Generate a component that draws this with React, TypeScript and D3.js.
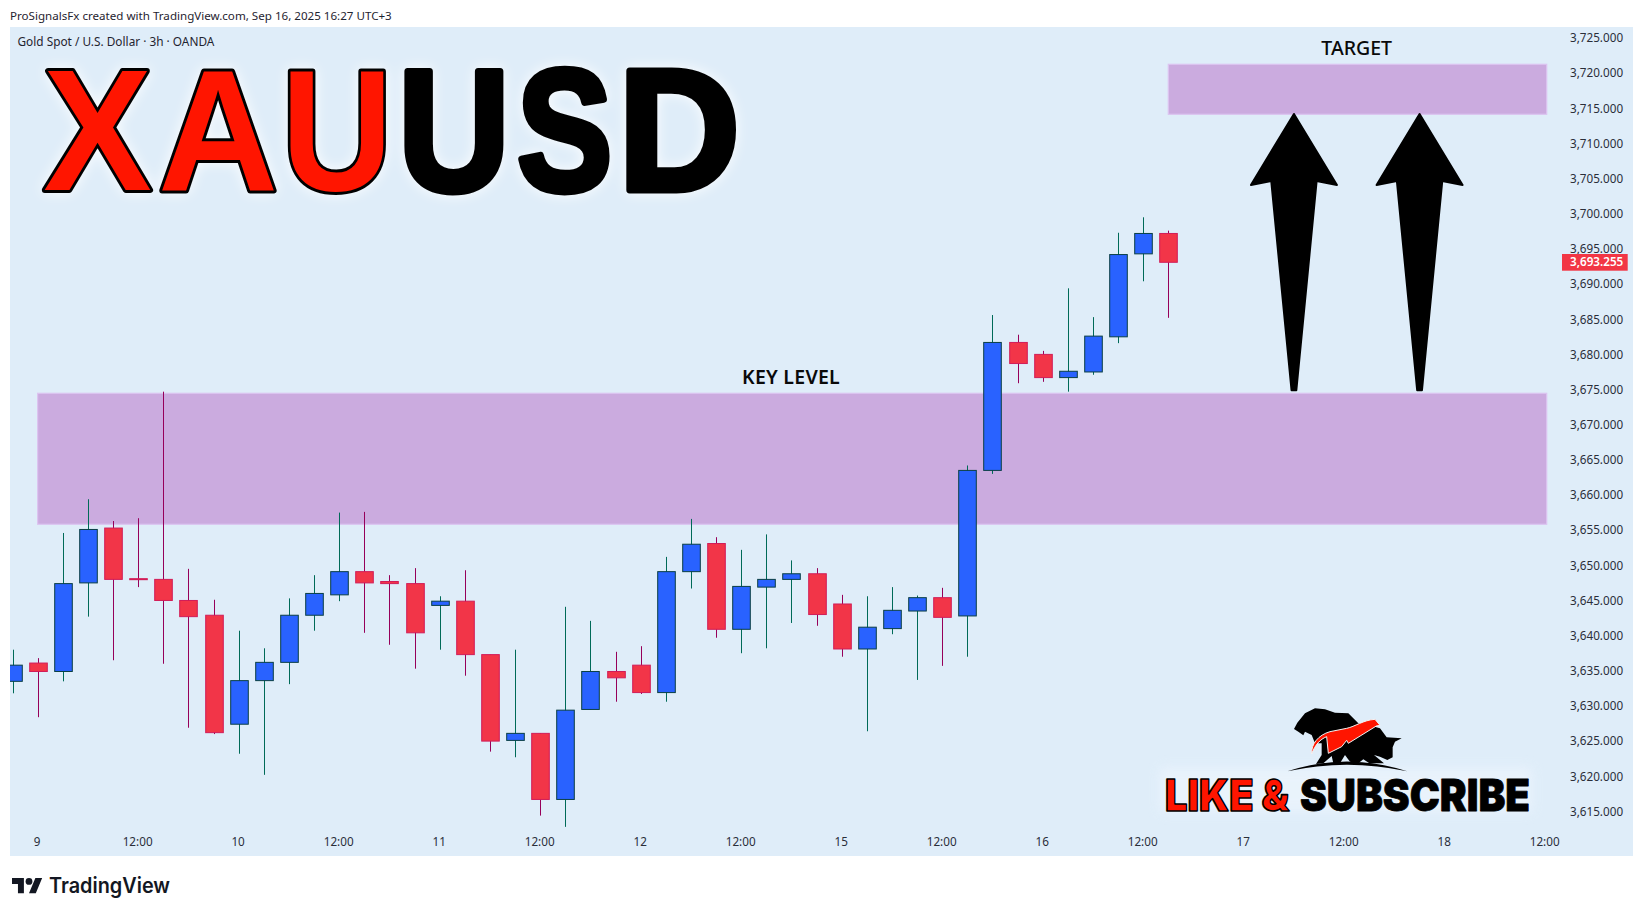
import React from "react";
import * as d3 from "d3";

// O, H, L, C per candle (3h bars, index 0 = last bar of Sep 8)
const opens = [3633.4,3636.0,3634.8,3647.4,3655.2,3648.0,3647.9,3644.9,3642.8,3627.3,3633.5,3636.1,3642.8,3645.7,3649.0,3647.6,3647.3,3644.2,3644.8,3637.2,3625.0,3626.0,3616.6,3629.4,3634.8,3635.7,3631.8,3649.0,3653.0,3640.8,3646.8,3647.9,3648.7,3644.4,3638.0,3640.9,3643.4,3645.3,3642.7,3663.4,3681.6,3679.9,3676.6,3677.4,3682.4,3694.2,3697.1];
const highs = [3637.9,3636.7,3654.5,3659.3,3656.2,3656.6,3674.6,3649.4,3645.0,3640.6,3638.1,3645.2,3648.5,3657.4,3657.5,3648.5,3649.5,3645.5,3649.2,3637.2,3637.9,3626.0,3644.0,3642.0,3637.6,3638.4,3651.1,3656.5,3653.9,3652.1,3654.3,3650.6,3649.5,3645.7,3645.5,3646.8,3645.6,3646.7,3664.1,3685.5,3682.7,3680.4,3689.3,3685.2,3697.2,3699.4,3697.5];
const lows = [3631.7,3628.3,3633.4,3642.6,3636.4,3646.8,3635.9,3626.8,3625.9,3623.1,3620.1,3633.0,3640.6,3644.8,3640.3,3638.6,3635.2,3637.9,3634.2,3623.4,3622.6,3614.3,3612.7,3629.4,3630.5,3631.6,3630.5,3646.6,3639.6,3637.4,3638.1,3641.7,3641.3,3636.9,3626.3,3640.1,3633.6,3635.6,3636.9,3662.9,3675.8,3676.0,3674.6,3677.0,3681.5,3690.3,3685.1];
const closes = [3635.7,3634.8,3647.3,3655.0,3647.9,3647.9,3644.9,3642.6,3626.1,3633.5,3636.1,3642.8,3645.9,3649.0,3647.4,3647.3,3640.3,3644.8,3637.2,3624.9,3626.0,3616.6,3629.3,3634.8,3633.9,3631.8,3649.0,3652.9,3640.8,3646.9,3647.9,3648.7,3642.9,3638.0,3641.1,3643.5,3645.3,3642.5,3663.4,3681.6,3678.6,3676.6,3677.5,3682.5,3694.1,3697.1,3693.0];

const priceTicks = [3725,3720,3715,3710,3705,3700,3695,3690,3685,3680,3675,3670,3665,3660,3655,3650,3645,3640,3635,3630,3625,3620,3615];
const timeLabels = ["9","12:00","10","12:00","11","12:00","12","12:00","15","12:00","16","12:00","17","12:00","18","12:00"];
const titleLetters = ["X","A","U","U","S","D"];
const titleCentres = [97.5,218,337,454,564.5,679];
const titleWidths = [0.945,0.967,0.897,0.897,0.83,0.976];
const zoneKey = [3674.37,3655.74];
const zoneTarget = [3721.16,3714.05];
const arrowIdx = [51,56];
const arrowTip = 3714.1;
const arrowBase = 3674.8;
const lastPrice = 3693.255;

const W = 1643, H = 916;
const panel = { x: 10, y: 27, r: 1633, b: 856 };
const x = d3.scaleLinear().domain([0,61]).range([12.5,1545.2]);
const y = d3.scaleLinear().domain([3725,3615]).range([37.3,810.7]);
const zoneX0 = x(1), zoneX1 = 1546.7, targetX0 = x(46);
const SANS = "'Noto Sans', sans-serif";

const UP = { fill:"#2962ff", edge:"#0a3f44", wick:"#006a58" };
const DN = { fill:"#f23548", edge:"#d11c58", wick:"#96005a" };

function Zone({ x0, x1, top, bot }: { x0:number; x1:number; top:number; bot:number }) {
  return <rect x={x0} y={y(top)} width={x1-x0} height={y(bot)-y(top)} fill="#cbabdf" stroke="#dcc4f0" strokeWidth={1.2}/>;
}

function Arrow({ idx }: { idx:number }) {
  const cx = x(idx), t = y(arrowTip), b = y(arrowBase);
  const p = d3.path();
  p.moveTo(cx, t);
  p.lineTo(cx+43, t+71);
  p.lineTo(cx+22.7, t+67);
  p.lineTo(cx+2.4, b);
  p.lineTo(cx-2.4, b);
  p.lineTo(cx-22.7, t+67);
  p.lineTo(cx-43, t+71);
  p.closePath();
  return <path d={p.toString()} fill="#000" stroke="#000" strokeWidth={2} strokeLinejoin="round"/>;
}

export default function App() {
  const lineHeavy = "'Liberation Sans', Arial, sans-serif";
  return (
    <svg width={W} height={H} viewBox={`0 0 ${W} ${H}`} style={{position:"fixed",left:0,top:0,display:"block",background:"#fff"}}>
      <defs>
        <clipPath id="pane"><rect x={panel.x} y={panel.y} width={panel.r-panel.x} height={panel.b-panel.y}/></clipPath>
        <filter id="glow" x="-20%" y="-20%" width="140%" height="140%" colorInterpolationFilters="sRGB">
          <feGaussianBlur in="SourceAlpha" stdDeviation="7" result="b"/>
          <feFlood floodColor="#fff" floodOpacity="0.95"/>
          <feComposite in2="b" operator="in" result="g"/>
          <feMerge><feMergeNode in="g"/><feMergeNode in="SourceGraphic"/></feMerge>
        </filter>
        <filter id="soft" x="-10%" y="-30%" width="120%" height="160%"><feGaussianBlur stdDeviation="6"/></filter>
      </defs>

      <text x={10} y={19.5} fontFamily={SANS} fontSize={11.6} fill="#1f2430">ProSignalsFx created with TradingView.com, Sep 16, 2025 16:27 UTC+3</text>

      <rect x={panel.x} y={panel.y} width={panel.r-panel.x} height={panel.b-panel.y} fill="#dfedf9"/>

      <g clipPath="url(#pane)">
        <Zone x0={zoneX0} x1={zoneX1} top={zoneKey[0]} bot={zoneKey[1]}/>
        <Zone x0={targetX0} x1={zoneX1} top={zoneTarget[0]} bot={zoneTarget[1]}/>
        {opens.map((o,i) => {
          const c = closes[i], col = c >= o ? UP : DN;
          const cx = Math.round(x(i)) + 0.5;
          const top = y(Math.max(o,c)), bot = y(Math.min(o,c));
          return (
            <g key={i}>
              <line x1={cx} x2={cx} y1={y(highs[i])} y2={y(lows[i])} stroke={col.wick} strokeWidth={1}/>
              <rect x={cx-8.8} y={top} width={17.6} height={Math.max(bot-top,1)} fill={col.fill} stroke={col.edge} strokeWidth={1}/>
            </g>
          );
        })}
      </g>

      <g filter="url(#glow)" fontFamily={lineHeavy} fontWeight={700} fontSize={172}>
        {titleLetters.map((l,i) => (
          <text key={i} transform={`translate(${titleCentres[i]},189.5) scale(${titleWidths[i]},1)`} textAnchor="middle"
            fill={i<3 ? "#ff1500" : "#000"} stroke="#000" strokeWidth={i<3 ? 6 : 7} strokeLinejoin="round" style={{paintOrder:"stroke"}}>{l}</text>
        ))}
      </g>

      <text x={17.5} y={46} fontFamily={SANS} fontSize={11.84} fill="#1f2430">Gold Spot / U.S. Dollar · 3h · OANDA</text>

      {arrowIdx.map(i => <Arrow key={i} idx={i}/>)}

      <text x={791} y={384} textAnchor="middle" fontFamily={SANS} fontWeight={600} fontSize={19.5} letterSpacing={0.25} fill="#0a0a0a">KEY LEVEL</text>
      <text x={1356.7} y={54.5} textAnchor="middle" fontFamily={SANS} fontWeight={500} fontSize={19.5} fill="#0a0a0a">TARGET</text>

      {/* price axis */}
      {priceTicks.map(p => (
        <text key={p} x={1570} y={y(p)+5} fontFamily={SANS} fontSize={11.7} fill="#2a2e39">{d3.format(",.3f")(p)}</text>
      ))}
      <rect x={1562} y={254} width={65.7} height={16.7} fill="#f23645"/>
      <text x={1570} y={y(lastPrice)+6} fontFamily={SANS} fontWeight={600} fontSize={11.7} fill="#fff">{d3.format(",.3f")(lastPrice)}</text>

      {/* time axis */}
      {timeLabels.map((t,i) => (
        <text key={i} x={x(1+i*4)-0.5} y={845.5} textAnchor="middle" fontFamily={SANS} fontSize={11.7} fill="#2a2e39">{t}</text>
      ))}

      {/* subscribe badge */}
      <rect x={1160} y={768} width={372} height={44} fill="#f2f8fe" opacity={0.55} filter="url(#soft)"/>
      <g transform="translate(1280,700) scale(0.3333)">
        <path fill="#000" d="M42,87 L52,68 L75,40 L105,25 L135,28 L165,38 L205,40 L235,70 L265,75 L300,85 L320,112 L365,115 L345,125 L338,142 L338,172 L322,180 L300,170 L282,165 L312,190 L268,190 L250,178 L235,190 L210,185 L195,165 L180,190 L160,190 L155,168 L130,190 L108,192 L125,165 L125,130 L105,130 L95,105 L75,95 L70,106 L55,95 Z"/>
        <path fill="#000" d="M22,214 Q200,155 382,214 Q200,174 22,214 Z"/>
        <path fill="#ff1500" stroke="#f4f4f4" strokeWidth={3} strokeLinejoin="round" d="M95,162 C93,132 115,105 150,95 L200,85 C225,80 250,60 285,58 L300,76 L289,78 L205,130 L200,121 L185,140 L145,160 L140,110 C120,118 105,135 95,162 Z"/>
      </g>
      <g fontFamily="Inter, sans-serif" fontWeight={900} fontSize={44} strokeLinejoin="round">
        <text x={1165} y={810.5} textLength={124} lengthAdjust="spacingAndGlyphs" fill="#ff1500" stroke="#000" strokeWidth={1.6}>LIKE &amp;</text>
        <text x={1300} y={810.5} textLength={230} lengthAdjust="spacingAndGlyphs" fill="#000" stroke="#000" strokeWidth={0.8}>SUBSCRIBE</text>
      </g>

      {/* TradingView logo */}
      <g transform="translate(12,874.6) scale(0.85)" fill="#131722">
        <path d="M14 22H7V11H0V4h14v18zM28 22h-8l7.5-18h8L28 22z"/>
        <circle cx={20} cy={8} r={4}/>
      </g>
      <text x={49} y={892.5} fontFamily="Inter, sans-serif" fontWeight={600} fontSize={21} fill="#131722" textLength={121} lengthAdjust="spacingAndGlyphs">TradingView</text>
    </svg>
  );
}
